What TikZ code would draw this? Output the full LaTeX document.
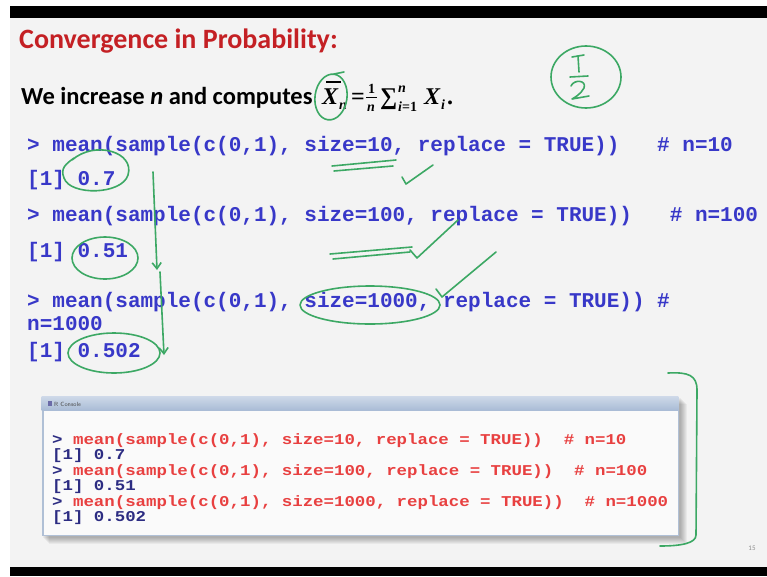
\documentclass[tikz,border=0pt]{standalone}
\usepackage{fontspec}
\usepackage{graphicx}
\setmainfont{Carlito}
\setmonofont{Liberation Mono}
\newfontfamily\fmfont{Liberation Serif}
\usetikzlibrary{arrows.meta}
\definecolor{slidebg}{RGB}{243,243,243}
\definecolor{titlered}{RGB}{196,32,36}
\definecolor{codeblue}{RGB}{56,56,200}
\definecolor{conred}{RGB}{232,64,64}
\definecolor{conblue}{RGB}{44,44,130}
\definecolor{pen}{RGB}{60,168,100}
\definecolor{conbg}{RGB}{250,250,250}
\definecolor{conframe}{RGB}{176,192,214}
\definecolor{bartop}{RGB}{205,216,232}
\definecolor{barbot}{RGB}{168,187,213}
\newcommand\widecode[1]{\scalebox{1.16}[1]{#1}}
\begin{document}
\begin{tikzpicture}[x=1pt,y=-1pt,
  code/.style={anchor=base west,inner sep=0pt,text=codeblue,font=\ttfamily\bfseries\fontsize{21}{24}\selectfont},
  con/.style={anchor=base west,inner sep=0pt,text=conred,font=\ttfamily\bfseries\fontsize{15}{16}\selectfont},
  conout/.style={con,text=conblue},
  fm/.style={anchor=base west,inner sep=0pt,font=\fmfont\bfseries\fontsize{24}{28}\selectfont},
  fmi/.style={anchor=base west,inner sep=0pt,font=\fmfont\bfseries\itshape\fontsize{24}{28}\selectfont},
  fms/.style={anchor=base west,inner sep=0pt,font=\fmfont\bfseries\fontsize{14}{16}\selectfont},
  fmsi/.style={anchor=base west,inner sep=0pt,font=\fmfont\bfseries\itshape\fontsize{14}{16}\selectfont},
  ink/.style={draw=pen,line width=1.6pt,line cap=round,line join=round},
  inkarrow/.style={ink,-{Straight Barb[length=6pt,width=9pt]}}
]
\useasboundingbox (0,0) rectangle (767,576);
\fill[white] (0,0) rectangle (767,576);
\fill[slidebg] (10,18) rectangle (767,567);
\fill[black] (10,6) rectangle (767,18);
\fill[black] (10,567) rectangle (767,576);

% title and intro
\node[anchor=base west,inner sep=0pt,text=titlered,font=\bfseries\fontsize{28}{30}\selectfont] (title) at (19,48) {Convergence in Probability:};
\node[anchor=base west,inner sep=0pt,font=\bfseries\fontsize{24.5}{28}\selectfont] (intro) at (21,104) {We increase \textit{n} and computes};

% formula  Xbar_n = 1/n sum_{i=1}^n X_i.
\node[fmi] (xbar) at (322,104) {X};
\draw[line width=1.3pt] (326,82) -- (341,82);
\node[fmsi] (xbarsub) at (339,109) {n};
\node[fm] (eq) at (351,104) {=};
\node[fms] (num) at (368,93) {1};
\draw[line width=1pt] (366,97) -- (377,97);
\node[fmsi] (den) at (367,111) {n};
\node[fm] (sum) at (380,104) {∑};
\node[fmsi] (sumsup) at (398,92) {n};
\node[fms] (sumsub) at (398,111) {\itshape i\upshape=1};
\node[fmi] (xi) at (424,104) {X};
\node[fmsi] (xisub) at (441,109) {i};
\node[fm] (dot) at (447,104) {.};

% code lines
\node[code] (l1) at (27,151) {> mean(sample(c(0,1), size=10, replace = TRUE))\ \ \ \# n=10};
\node[code] (r1) at (27,185) {[1] 0.7};
\node[code] (l2) at (27,221) {> mean(sample(c(0,1), size=100, replace = TRUE))\ \ \ \# n=100};
\node[code] (r2) at (27,257) {[1] 0.51};
\node[code] (l3) at (27,307) {> mean(sample(c(0,1), size=1000, replace = TRUE)) \#};
\node[code] (l3b) at (27,330) {n=1000};
\node[code] (r3) at (27,357) {[1] 0.502};

% console window
\foreach \i in {1,...,7}
  \fill[black,opacity=0.045] (42+\i,397+\i) rectangle (680+\i,537+\i);
\node[draw=conframe,fill=conbg,line width=0.8pt,minimum width=636pt,minimum height=138pt,inner sep=0pt] (console) at (360,466) {};
\shade[top color=bartop,bottom color=barbot] (console.north west) rectangle ([yshift=-14pt]console.north east);
\draw[conframe,line width=1.5pt] ([xshift=2pt,yshift=-14pt]console.north west) -- ([xshift=2pt]console.south west);
\fill[conblue!70] (48,401) rectangle (52,406);
\node[anchor=west,inner sep=0pt,text=black!70,font=\sffamily\fontsize{6}{7}\selectfont] (ctitle) at (54,404) {R Console};
\node[con] (c1) at (52,444) {\widecode{\textcolor{conblue}{>} mean(sample(c(0,1), size=10, replace = TRUE))\ \ \# n=10}};
\node[conout] (c2) at (52,459.5) {\widecode{[1] 0.7}};
\node[con] (c3) at (52,475) {\widecode{\textcolor{conblue}{>} mean(sample(c(0,1), size=100, replace = TRUE))\ \ \# n=100}};
\node[conout] (c4) at (52,490.5) {\widecode{[1] 0.51}};
\node[con] (c5) at (52,506) {\widecode{\textcolor{conblue}{>} mean(sample(c(0,1), size=1000, replace = TRUE))\ \ \# n=1000}};
\node[conout] (c6) at (52,521.5) {\widecode{[1] 0.502}};

\node[inner sep=0pt,text=black!45,font=\fontsize{7}{8}\selectfont] (page) at (752,548) {15};

% green handwriting
\draw[ink,rotate around={-8:(331,97)}] (331,97) ellipse (16 and 23);
\draw[ink] (334,74) -- (344,72);
\draw[ink] (586,77) ellipse (35 and 31);
\draw[ink] (572,57) -- (584,55);
\draw[ink] (578,56) -- (579,72);
\draw[ink] (570,77) -- (588,76);
\draw[ink] (571,86) .. controls (574,79) and (587,80) .. (584,88) .. controls (581,94) and (574,98) .. (572,99) -- (589,96);

\draw[ink] (332,166) -- (396,160);
\draw[ink] (334,171) -- (393,166);
\draw[ink] (402,177) -- (406,184) -- (433,165);

\draw[ink] (72,160) .. controls (95,140) and (135,152) .. (128,175) .. controls (122,195) and (70,196) .. (64,178) .. controls (60,168) and (66,164) .. (74,158);
\draw[inkarrow] (153,172) -- (157,270);

\draw[ink] (105,258) ellipse (33 and 21);
\draw[ink] (330,254) -- (412,247);
\draw[ink] (333,259) -- (410,252);
\draw[ink] (410,250) -- (417,258) -- (458,220);
\draw[ink] (436,289) -- (442,297) -- (496,252);

\draw[ink] (370,305) ellipse (70 and 19);
\draw[inkarrow] (160,272) -- (164,355);
\draw[ink] (114,353) ellipse (46 and 20);

\draw[ink] (668,373) .. controls (688,372) and (697,375) .. (697,390) -- (696,535) .. controls (696,543) and (682,546) .. (660,546);
\end{tikzpicture}
\end{document}
